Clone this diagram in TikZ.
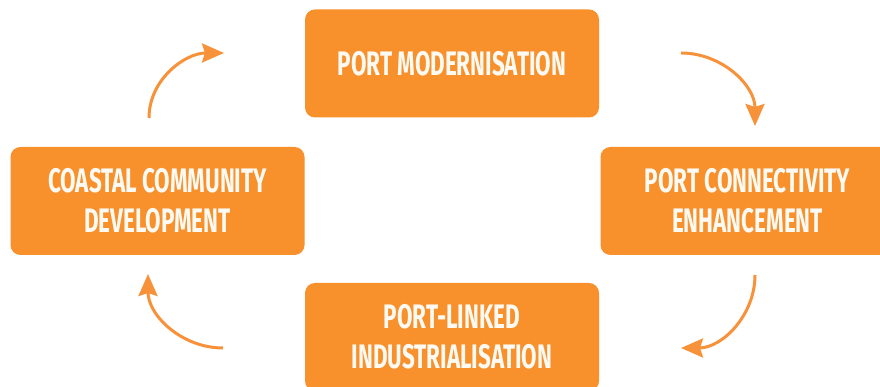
\documentclass[tikz,border=0pt]{standalone}
\usepackage{fontspec}
\usetikzlibrary{arrows.meta}
\newfontfamily\boxfont{Fira Sans}[FakeStretch=0.66]
\definecolor{boxorange}{HTML}{F8902B}
\definecolor{arroworange}{HTML}{F8923A}
\definecolor{boxtext}{HTML}{FCFAF2}
\tikzset{
  stagebox/.style={fill=boxorange, draw=none, rounded corners=10pt,
    minimum width=294pt, minimum height=108pt, inner sep=0pt,
    text=boxtext, align=center,
    font=\boxfont\bfseries\fontsize{34}{40}\selectfont},
  cyclearrow/.style={draw=arroworange, line width=3pt,
    -{Stealth[length=22pt, width=19pt, inset=3pt]}}
}
\begin{document}
\begin{tikzpicture}[x=1pt, y=1pt]
  \clip (0,0) rectangle (880,387);
  \fill[white] (0,0) rectangle (880,387);

  % the four stages of the cycle
  \node[stagebox] (pm) at (452,323.5) {PORT MODERNISATION};
  \node[stagebox] (pc) at (747.5,186) {PORT CONNECTIVITY\\ENHANCEMENT};
  \node[stagebox] (pl) at (452,50) {PORT-LINKED\\INDUSTRIALISATION};
  \node[stagebox] (cc) at (157.5,186) {COASTAL COMMUNITY\\DEVELOPMENT};

  % arrow end points between the stages
  \coordinate (a1s) at (149,269);
  \coordinate (a1e) at (224,334);
  \coordinate (a2s) at (681,334);
  \coordinate (a2e) at (755,261);
  \coordinate (a3s) at (755,112);
  \coordinate (a3e) at (681,39);
  \coordinate (a4s) at (223,39);
  \coordinate (a4e) at (148,113);

  % clockwise arrows
  \draw[cyclearrow] (a1s) to[out=90, in=180] (a1e);
  \draw[cyclearrow] (a2s) to[out=0, in=90] (a2e);
  \draw[cyclearrow] (a3s) to[out=-90, in=0] (a3e);
  \draw[cyclearrow] (a4s) to[out=180, in=-90] (a4e);
\end{tikzpicture}
\end{document}
